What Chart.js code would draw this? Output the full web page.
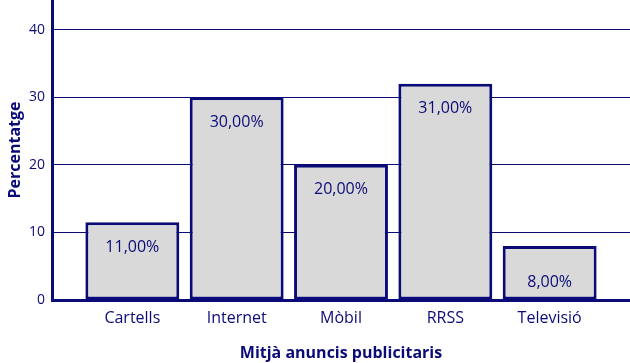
<!DOCTYPE html>
<html>
<head>
<meta charset="utf-8">
<script src="https://cdn.jsdelivr.net/npm/chart.js@4"></script>
<style>
    html, body { margin: 0; padding: 0; background: #fff; }
    #wrap { width: 630px; height: 363px; }
</style>
</head>
<body>
<div id="wrap"><canvas id="chart" width="630" height="363"></canvas></div>
<script>
const categories = ['Cartells', 'Internet', 'Mòbil', 'RRSS', 'Televisió'];
// alçades llegides de les barres del gràfic
const barValues = [11.5, 30, 20, 32, 8];
// textos que mostren les barres
const barTexts = ['11,00%', '30,00%', '20,00%', '31,00%', '8,00%'];
const yTicks = [0, 10, 20, 30, 40];
const yMax = 44.4;

const NAVY = '#0b0b78';
const FONT = "'Open Sans', 'Noto Sans', sans-serif";

// etiquetes dins de les barres
const barLabels = {
    id: 'barLabels',
    afterDatasetsDraw(chart) {
        const ctx = chart.ctx;
        const meta = chart.getDatasetMeta(0);
        ctx.save();
        ctx.fillStyle = NAVY;
        ctx.font = '16px ' + FONT;
        ctx.textAlign = 'center';
        ctx.textBaseline = 'middle';
        meta.data.forEach((bar, i) => {
            const h = bar.base - bar.y;
            const y = h < 60 ? bar.base - 17 : bar.y + 25;
            ctx.fillText(barTexts[i], bar.x, y);
        });
        ctx.restore();
    }
};

new Chart(document.getElementById('chart').getContext('2d'), {
    type: 'bar',
    data: {
        datasets: [{
            data: barValues.map((v, i) => ({ x: i, y: v })),
            backgroundColor: '#d9d9d9',
            borderColor: NAVY,
            borderWidth: 3,
            borderSkipped: false,
            barPercentage: 0.9,
            categoryPercentage: 1
        }]
    },
    options: {
        responsive: false,
        animation: false,
        plugins: { legend: { display: false }, tooltip: { enabled: false } },
        scales: {
            x: {
                type: 'linear',
                offset: false,
                min: -0.77,
                max: 4.77,
                grid: { display: false },
                border: { display: true, color: NAVY, width: 3 },
                afterBuildTicks: (scale) => {
                    scale.ticks = categories.map((c, i) => ({ value: i }));
                },
                ticks: {
                    color: NAVY,
                    font: { family: FONT, size: 16 },
                    padding: 1,
                    maxRotation: 0,
                    callback: (value) => categories[value] || ''
                },
                title: {
                    display: true,
                    text: 'Mitjà anuncis publicitaris',
                    color: NAVY,
                    font: { family: FONT, size: 16, weight: 'bold' },
                    padding: { top: 4, bottom: 0 }
                },
                afterFit: (scale) => { scale.height = 63; }
            },
            y: {
                min: 0,
                max: yMax,
                afterBuildTicks: (scale) => {
                    scale.ticks = yTicks.map(v => ({ value: v }));
                },
                grid: { color: NAVY, lineWidth: 1, drawTicks: false },
                border: { display: true, color: NAVY, width: 3 },
                ticks: {
                    color: NAVY,
                    font: { family: FONT, size: 14 },
                    padding: 7
                },
                title: {
                    display: true,
                    text: 'Percentatge',
                    color: NAVY,
                    font: { family: FONT, size: 16, weight: 'bold' },
                    padding: { top: 6, bottom: 0 }
                },
                afterFit: (scale) => {
                    scale.width = 52;
                    // l'eix arriba fins a dalt del llenç
                    scale.paddingTop = 0;
                    scale.paddingBottom = 0;
                }
            }
        }
    },
    plugins: [barLabels]
});
</script>
</body>
</html>
